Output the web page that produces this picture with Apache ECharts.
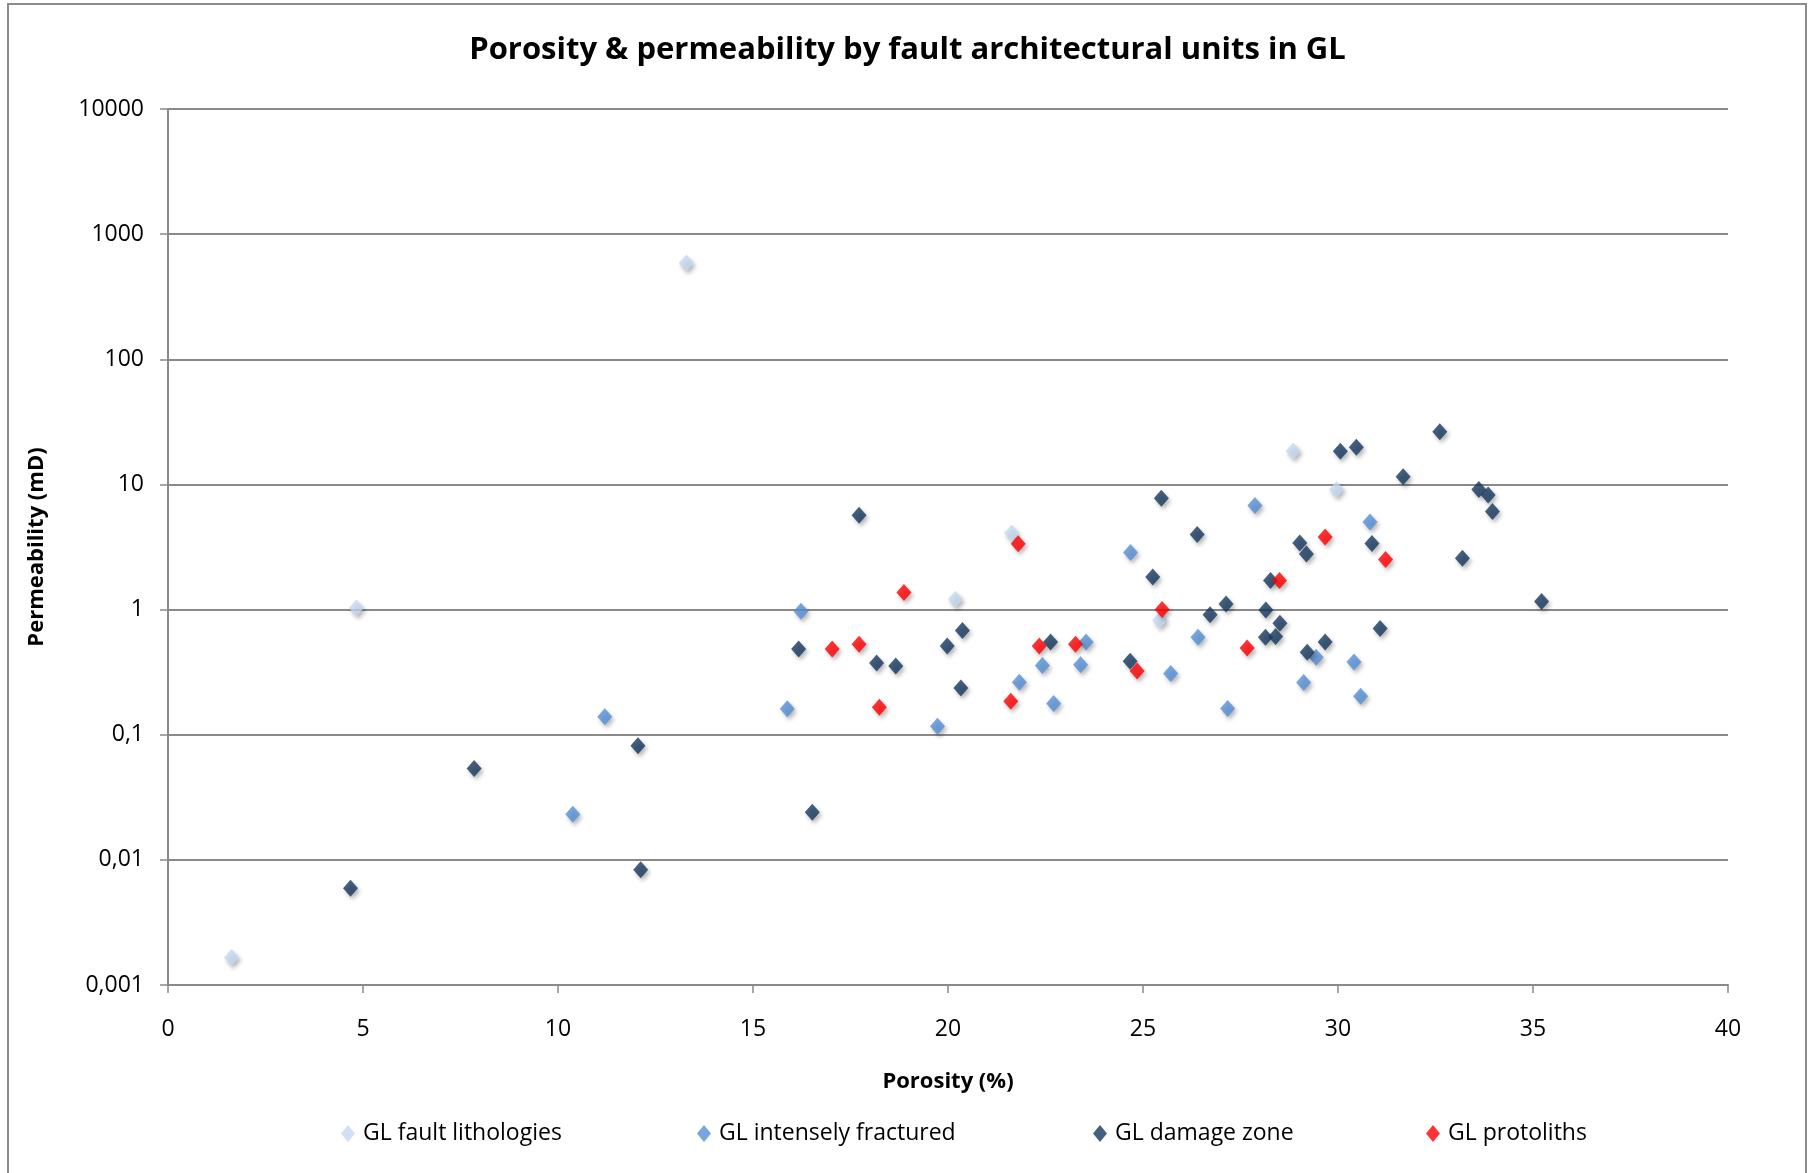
<!DOCTYPE html>
<html>
<head>
<meta charset="utf-8">
<script src="https://cdn.jsdelivr.net/npm/echarts@6/dist/echarts.min.js"></script>
<style>
html,body{margin:0;padding:0;background:#fff;}
#chart{width:1815px;height:1173px;}
</style>
</head>
<body>
<div id="chart"></div>
<script>
// ---- data (porosity %, permeability mD) ----
const seriesNames = ['GL fault lithologies', 'GL intensely fractured', 'GL damage zone', 'GL protoliths'];

const faultLithologies = [
  [1.63, 0.00166], [4.83, 1.03], [13.29, 589], [20.19, 1.21], [21.63, 4.1],
  [25.43, 0.82], [28.85, 18.5], [29.96, 9.1]
];

const intenselyFractured = [
  [10.38, 0.0231], [11.2, 0.139], [15.88, 0.161], [16.23, 0.97], [19.73, 0.117],
  [21.83, 0.262], [22.42, 0.357], [22.71, 0.178], [23.4, 0.363], [23.54, 0.55],
  [24.68, 2.86], [25.71, 0.308], [26.41, 0.6], [27.17, 0.162], [27.87, 6.78],
  [29.12, 0.261], [29.44, 0.416], [30.41, 0.381], [30.58, 0.203], [30.82, 5.02]
];

const damageZone = [
  [4.68, 0.00594], [7.85, 0.0536], [12.05, 0.0818], [12.12, 0.00835], [16.17, 0.484],
  [16.52, 0.024], [17.72, 5.68], [18.17, 0.374], [18.66, 0.354], [19.98, 0.512],
  [20.37, 0.679], [20.33, 0.236], [22.63, 0.55], [24.67, 0.386], [25.25, 1.82],
  [25.47, 7.76], [26.39, 3.98], [26.72, 0.91], [27.13, 1.11], [28.14, 0.60],
  [28.15, 0.99], [28.27, 1.71], [28.40, 0.61], [28.51, 0.777], [29.02, 3.41],
  [29.19, 2.78], [29.21, 0.456], [29.67, 0.55], [30.06, 18.4], [30.47, 19.8],
  [30.87, 3.37], [31.08, 0.705], [31.67, 11.5], [32.61, 26.3], [33.19, 2.57],
  [33.61, 9.1], [33.85, 8.24], [33.96, 6.07], [35.22, 1.16]
];

const protoliths = [
  [17.03, 0.484], [17.72, 0.528], [18.24, 0.166], [18.87, 1.37], [21.61, 0.185],
  [21.80, 3.35], [22.34, 0.512], [23.27, 0.528], [24.85, 0.323], [25.49, 1.0],
  [27.67, 0.493], [28.50, 1.71], [29.67, 3.8], [31.22, 2.51]
];

const xTicks = [0, 5, 10, 15, 20, 25, 30, 35, 40];
const yTickValues = [0.001, 0.01, 0.1, 1, 10, 100, 1000, 10000];
const yTickLabels = ['0,001', '0,01', '0,1', '1', '10', '100', '1000', '10000'];

// ---- styling ----
const colors = ['#C6D9F1', '#558ED5', '#17375E', '#FF0000'];
const FONT = '"Open Sans", "Noto Sans", sans-serif';
const legendLefts = [336, 692, 1088, 1421];

function yLabel(v) {
  let best = 0, bd = Infinity;
  yTickValues.forEach((t, i) => {
    const d = Math.abs(Math.log10(v) - Math.log10(t));
    if (d < bd) { bd = d; best = i; }
  });
  return bd < 1e-6 ? yTickLabels[best] : '';
}

const dataSets = [faultLithologies, intenselyFractured, damageZone, protoliths];

const chart = echarts.init(document.getElementById('chart'));
chart.setOption({
  animation: false,
  backgroundColor: '#ffffff',
  title: {
    text: 'Porosity & permeability by fault architectural units in GL',
    left: 'center',
    top: 30,
    textStyle: { fontFamily: FONT, fontWeight: 'bold', fontSize: 31, color: '#000' }
  },
  graphic: [{
    type: 'rect',
    shape: { x: 8, y: 4, width: 1798, height: 1200 },
    style: { fill: 'none', stroke: '#8c8c8c', lineWidth: 2 },
    silent: true
  }],
  legend: seriesNames.map((n, i) => ({
    data: [n],
    left: legendLefts[i],
    top: 1117,
    icon: 'diamond',
    itemWidth: 14,
    itemHeight: 17,
    itemGap: 0,
    textStyle: { fontFamily: FONT, fontSize: 23, color: '#000', padding: [0, 0, 0, 3] }
  })),
  grid: { left: 168, right: 87, top: 109, bottom: 188, containLabel: false },
  xAxis: {
    type: 'value',
    min: xTicks[0],
    max: xTicks[xTicks.length - 1],
    interval: 5,
    name: 'Porosity (%)',
    nameLocation: 'middle',
    nameGap: 86,
    nameTextStyle: { fontFamily: FONT, fontWeight: 'bold', fontSize: 22, color: '#000' },
    axisLine: { show: true, lineStyle: { color: '#898989', width: 2 } },
    axisTick: { show: true, inside: false, length: 8, lineStyle: { color: '#898989', width: 1.5 } },
    axisLabel: { margin: 33, fontFamily: FONT, fontSize: 23, color: '#000' },
    splitLine: { show: false }
  },
  yAxis: {
    type: 'log',
    logBase: 10,
    min: yTickValues[0],
    max: yTickValues[yTickValues.length - 1],
    splitNumber: 7,
    name: 'Permeability (mD)',
    nameLocation: 'middle',
    nameGap: 120,
    nameTextStyle: { fontFamily: FONT, fontWeight: 'bold', fontSize: 22, color: '#000' },
    axisLine: { show: true, lineStyle: { color: '#898989', width: 2 } },
    axisTick: { show: true, inside: false, length: 8, lineStyle: { color: '#898989', width: 1.5 } },
    axisLabel: { margin: 24, fontFamily: FONT, fontSize: 23, color: '#000', formatter: yLabel },
    splitLine: { show: true, lineStyle: { color: '#898989', width: 2 } }
  },
  series: seriesNames.map((n, i) => ({
    name: n,
    type: 'scatter',
    data: dataSets[i],
    symbol: 'diamond',
    symbolSize: [15, 17],
    itemStyle: {
      color: colors[i],
      shadowBlur: 4,
      shadowOffsetX: 2,
      shadowOffsetY: 3,
      shadowColor: 'rgba(0,0,0,0.35)'
    },
    z: 2 + i
  }))
});
</script>
</body>
</html>
